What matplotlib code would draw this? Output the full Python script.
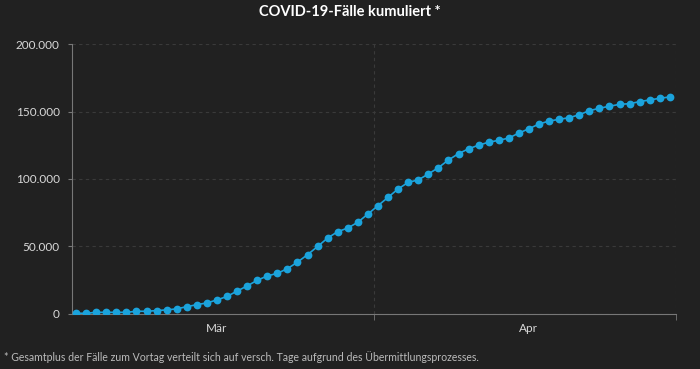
import matplotlib
matplotlib.use('Agg')
import matplotlib.pyplot as plt
from matplotlib.ticker import FuncFormatter
import pandas as pd

# cumulative cases, one point per day starting 16 Feb 2020
start_date = '2020-02-16'
cases = [300, 300, 1000, 1000, 1000, 1000, 1800, 1800, 2300, 2800,
         3600, 5200, 6700, 8000, 10200, 12800, 16800, 20600, 24800, 28000,
         30000, 33400, 38300, 43800, 49900, 56200, 60900, 63600, 67900, 74000,
         80200, 86400, 92600, 97500, 99300, 103700, 108400, 114100, 118800, 122400,
         125100, 127300, 128700, 130400, 134100, 137300, 140800, 143000, 144300, 145500,
         147700, 150700, 152500, 154000, 155400, 155900, 157400, 158700, 159900, 160900]
month_ticks = ['2020-03-01', '2020-04-01']
month_labels = ['Mär', 'Apr']
y_ticks = [0, 50000, 100000, 150000, 200000]

title = 'COVID-19-Fälle kumuliert *'
footnote = '* Gesamtplus der Fälle zum Vortag verteilt sich auf versch. Tage aufgrund des Übermittlungsprozesses.'

bg = '#212121'
blue = '#1ba3dc'
txt = '#d9d9d9'

plt.rcParams['font.family'] = ['Lato', 'DejaVu Sans']

dates = pd.date_range(start_date, periods=len(cases), freq='D')

fig = plt.figure(figsize=(7, 3.69), dpi=100, facecolor=bg)
ax = fig.add_axes([0.1033, 0.1499, 0.862, 0.7301], facecolor=bg)

ax.plot(dates, cases, color=blue, linewidth=1.2, marker='o', markersize=5.6,
        markeredgewidth=0, zorder=3)

left = dates[0] - pd.Timedelta(hours=9)
right = dates[-1] + pd.Timedelta(hours=14)
ax.set_xlim(left, right)
ax.set_ylim(0, 200000)

ax.set_yticks(y_ticks)
ax.yaxis.set_major_formatter(FuncFormatter(lambda v, p: f'{int(v):,}'.replace(',', '.')))
ax.set_xticks(pd.to_datetime(month_ticks))
ax.set_xticklabels(month_labels)

# vertical guides at the middle and right end of the time axis
mid = left + (right - left) / 2
ax.set_xticks([mid, right], minor=True)
ax.grid(True, axis='y', color='#3a3a3a', linestyle=(0, (3, 3)), linewidth=0.8)
ax.grid(True, axis='x', which='minor', color='#3a3a3a', linestyle=(0, (3, 3)), linewidth=0.8)

ax.tick_params(axis='x', which='major', length=0, colors=txt, labelsize=8.5, pad=7)
ax.tick_params(axis='x', which='minor', length=4, color='#777777', direction='out')
ax.tick_params(axis='y', length=3, color='#777777', colors=txt, labelsize=8.5, pad=6)

for side in ['top', 'right']:
    ax.spines[side].set_visible(False)
for side in ['left', 'bottom']:
    ax.spines[side].set_color('#777777')
    ax.spines[side].set_linewidth(0.8)

fig.text(0.5, 0.967, title, ha='center', va='center', color='white',
         fontsize=10.5, fontweight='bold')
fig.text(0.006, 0.032, footnote, ha='left', va='center', color='#bbbbbb', fontsize=7.6)

fig.savefig('out.png', dpi=100, facecolor=bg)
